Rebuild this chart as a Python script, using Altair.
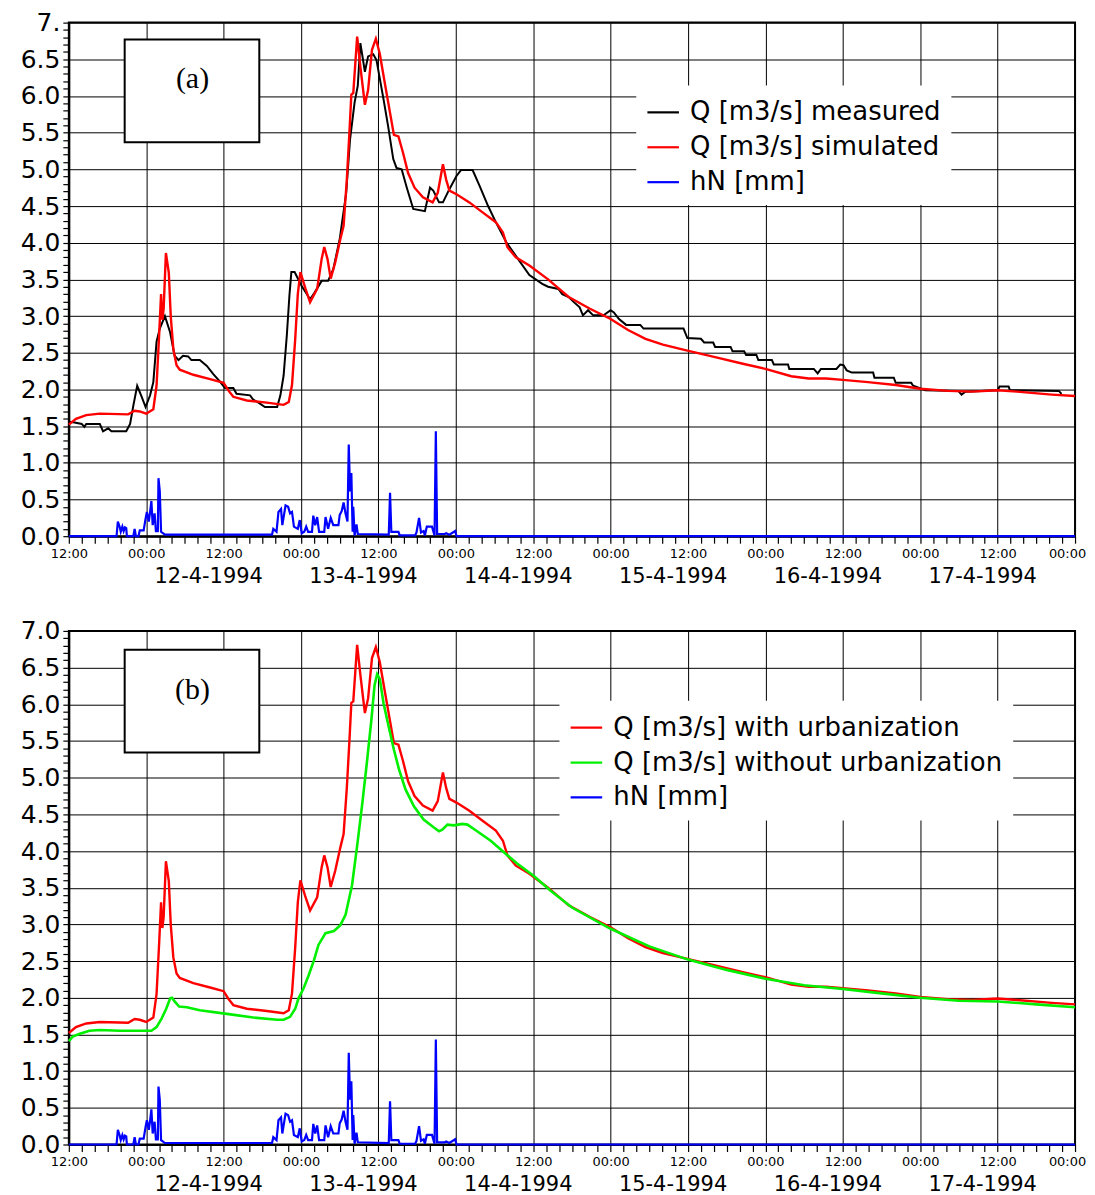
import altair as alt
import pandas as pd

# ---------------- data (hours after 11-4-1994 12:00) ----------------
red_h = [0, 1.1, 2.7, 4.8, 9.2, 10.2, 11.0, 12.0, 13.1, 13.6,
         14.0, 14.3, 14.5, 14.7, 15.05, 15.5, 15.8, 16.2, 16.7, 17.2,
         19.3, 21.9, 24.0, 24.7, 25.5, 27.6, 30.7, 33.3, 34.1, 34.6,
         35.1, 35.5, 35.9, 36.7, 37.4, 38.5, 39.2, 39.6, 40.1, 40.6,
         41.3, 42.1, 42.6, 43.1, 43.5, 43.8, 44.1, 44.7, 45.2, 45.9,
         46.4, 47.0, 47.6, 48.2, 49.0, 49.8, 50.4, 51.1, 51.8, 52.6,
         53.6, 54.9, 56.4, 57.2, 58.0, 58.5, 59.0, 60.1, 62.1, 64.2,
         66.2, 67.3, 68.0, 69.3, 71.4, 74.3, 77.5, 80.8, 84, 86.7,
         89.4, 92.1, 95.9, 100.2, 104.5, 108, 112, 114.7, 117.4, 120,
         123.9, 128.2, 132, 136.3, 140, 144, 147, 152.4, 156]
red_v = [1.52, 1.60, 1.65, 1.67, 1.66, 1.71, 1.70, 1.67, 1.73, 2.05,
         2.74, 3.30, 2.95, 3.10, 3.86, 3.59, 3.00, 2.55, 2.33, 2.27,
         2.20, 2.14, 2.09, 1.99, 1.90, 1.85, 1.82, 1.79, 1.83, 2.06,
         2.69, 3.30, 3.60, 3.37, 3.19, 3.37, 3.78, 3.94, 3.78, 3.51,
         3.73, 4.05, 4.23, 4.86, 5.50, 6.02, 6.04, 6.81, 6.40, 5.88,
         6.08, 6.63, 6.78, 6.58, 6.17, 5.77, 5.47, 5.45, 5.23, 4.95,
         4.75, 4.62, 4.55, 4.68, 5.07, 4.86, 4.71, 4.66, 4.55, 4.41,
         4.28, 4.14, 3.94, 3.80, 3.69, 3.50, 3.26, 3.10, 2.96, 2.81,
         2.69, 2.61, 2.53, 2.44, 2.35, 2.28, 2.18, 2.15, 2.15, 2.13,
         2.10, 2.06, 2.01, 1.98, 1.97, 1.99, 1.97, 1.93, 1.91]

black_h = [0, 0.9, 2.0, 2.4, 2.7, 4.8, 5.3, 6.1, 6.6, 8.9,
           9.5, 10.0, 10.6, 11.3, 11.9, 12.6, 13.1, 13.6, 14.1, 14.9,
           15.7, 16.4, 17.0, 17.7, 18.5, 19.0, 20.3, 21.4, 22.4, 23.4,
           24.2, 25.5, 26.0, 28.1, 28.6, 29.4, 30.4, 32.3, 32.8, 33.3,
           33.8, 34.2, 34.5, 35.0, 36.1, 37.4, 38.1, 39.2, 40.2, 41.0,
           42.0, 43.0, 43.6, 44.3, 44.8, 45.2, 45.9, 46.4, 47.2, 47.7,
           48.8, 49.5, 50.3, 50.8, 51.6, 52.4, 53.4, 55.2, 56.0, 56.5,
           57.4, 58.0, 59.0, 60.1, 60.8, 62.6, 63.7, 65.0, 66.2, 67.8,
           69.3, 71.4, 73.4, 74.3, 75.9, 76.5, 77.5, 78.3, 79.2, 79.7,
           80.5, 81.3, 82.9, 84.0, 84.5, 85.3, 86.4, 88.6, 89.1, 95.3,
           95.9, 98.0, 98.5, 99.9, 100.2, 102.6, 102.9, 104.7, 105.0, 106.6,
           106.9, 109.0, 109.3, 111.5, 111.7, 115.5, 116.1, 116.6, 119.0, 119.6,
           120.1, 120.6, 121.4, 124.7, 124.9, 127.9, 128.2, 130.6, 130.9, 132.8,
           137.9, 138.4, 139.0, 144.0, 144.3, 145.7, 145.9, 153.5, 153.9]
black_v = [1.56, 1.55, 1.53, 1.49, 1.53, 1.53, 1.43, 1.47, 1.43, 1.43,
           1.53, 1.78, 2.05, 1.90, 1.76, 1.92, 2.10, 2.65, 2.83, 3.00,
           2.78, 2.46, 2.40, 2.46, 2.45, 2.40, 2.40, 2.32, 2.21, 2.11,
           2.02, 2.02, 1.94, 1.92, 1.86, 1.82, 1.76, 1.76, 1.92, 2.19,
           2.74, 3.28, 3.60, 3.60, 3.41, 3.23, 3.32, 3.48, 3.48, 3.64,
           4.05, 4.68, 5.41, 5.91, 6.14, 6.72, 6.33, 6.54, 6.57, 6.49,
           5.95, 5.59, 5.14, 5.02, 5.00, 4.75, 4.46, 4.43, 4.75, 4.71,
           4.55, 4.55, 4.73, 4.91, 4.99, 4.99, 4.77, 4.50, 4.28, 4.01,
           3.82, 3.56, 3.44, 3.40, 3.37, 3.30, 3.26, 3.19, 3.12, 3.01,
           3.08, 3.01, 3.01, 3.08, 3.05, 2.96, 2.88, 2.88, 2.83, 2.83,
           2.70, 2.69, 2.64, 2.64, 2.58, 2.58, 2.52, 2.52, 2.47, 2.47,
           2.40, 2.40, 2.34, 2.34, 2.28, 2.28, 2.22, 2.28, 2.28, 2.34,
           2.33, 2.26, 2.23, 2.23, 2.16, 2.16, 2.09, 2.09, 2.05, 1.99,
           1.98, 1.93, 1.97, 1.99, 2.04, 2.04, 1.99, 1.98, 1.94]

green_h = [0, 0.6, 1.7, 3.2, 4.8, 7.9, 12.8, 13.6, 14.4, 15.1,
           15.7, 16.0, 16.4, 17.1, 18.3, 20.3, 24.5, 28.6, 32.3, 33.3,
           34.3, 35.1, 35.6, 36.4, 37.2, 38.0, 38.7, 39.8, 41.1, 42.1,
           42.9, 43.9, 44.7, 45.5, 46.2, 46.9, 47.4, 47.8, 48.2, 48.8,
           49.6, 50.4, 51.2, 52.2, 53.5, 55.0, 56.6, 57.4, 57.9, 58.7,
           59.7, 61.0, 61.8, 63.3, 65.4, 67.5, 69.5, 72.1, 74.7, 78,
           84, 90, 96, 102, 108, 114, 120, 126, 132, 138,
           144, 150, 156]
green_v = [1.41, 1.47, 1.51, 1.55, 1.56, 1.55, 1.55, 1.60, 1.72, 1.85,
           1.99, 2.00, 1.95, 1.88, 1.87, 1.83, 1.78, 1.73, 1.70, 1.70,
           1.74, 1.85, 1.99, 2.13, 2.31, 2.51, 2.72, 2.88, 2.91, 2.99,
           3.13, 3.53, 4.07, 4.65, 5.20, 5.78, 6.26, 6.41, 6.35, 6.01,
           5.69, 5.38, 5.11, 4.84, 4.61, 4.43, 4.32, 4.27, 4.29, 4.36,
           4.35, 4.37, 4.36, 4.27, 4.14, 3.98, 3.83, 3.66, 3.46, 3.23,
           2.94, 2.70, 2.52, 2.38, 2.26, 2.17, 2.12, 2.06, 2.00, 1.96,
           1.95, 1.91, 1.87]

blue_h = [0, 7.4, 7.6, 7.9, 8.05, 8.3, 8.5, 8.7, 8.9, 9.0,
          10.0, 10.2, 10.4, 10.8, 11.0, 11.6, 11.9, 12.1, 12.4, 12.6,
          12.8, 13.0, 13.3, 13.5, 13.8, 13.9, 14.1, 14.3, 14.9, 31.5,
          31.7, 32.2, 32.5, 32.9, 33.1, 33.6, 34.0, 34.3, 34.6, 34.9,
          35.5, 35.8, 36.1, 36.5, 36.8, 37.1, 37.7, 37.9, 38.2, 38.5,
          38.8, 39.6, 39.8, 40.2, 40.6, 41.0, 41.8, 42.0, 42.3, 42.6,
          42.9, 43.2, 43.4, 43.6, 43.8, 44.0, 44.1, 44.3, 44.6, 44.8,
          49.6, 49.8, 50.0, 51.1, 51.3, 53.7, 53.9, 54.3, 54.6, 55.0,
          55.2, 55.5, 56.3, 56.7, 56.9, 57.1, 58.3, 58.5, 59.0, 59.9,
          60.1, 156]
blue_v = [0, 0, 0.20, 0.12, 0.06, 0.13, 0.07, 0.12, 0.11, 0,
          0, 0.10, 0, 0, 0.08, 0.08, 0.24, 0.33, 0.20, 0.33,
          0.48, 0.15, 0.31, 0.07, 0.07, 0.79, 0.61, 0.06, 0.02, 0.02,
          0.10, 0.06, 0.33, 0.37, 0.15, 0.42, 0.40, 0.31, 0.33, 0.13,
          0.10, 0.22, 0.04, 0.06, 0.13, 0.06, 0.06, 0.28, 0.15, 0.26,
          0.06, 0.06, 0.26, 0.10, 0.25, 0.15, 0.15, 0.29, 0.34, 0.46,
          0.31, 0.20, 1.25, 0.61, 0.86, 0.06, 0.40, 0.01, 0.16, 0.03,
          0.02, 0.59, 0.06, 0.06, 0.01, 0.01, 0.05, 0.25, 0.05, 0.07,
          0.01, 0.13, 0.13, 0.01, 1.43, 0.03, 0.03, 0.04, 0.02, 0.07,
          0.0, 0.0]

x_tick_hours = list(range(0, 157, 2))
y_tick_values = [round(i * 0.1, 1) for i in range(71)]
date_hours = [24, 48, 72, 96, 120, 144]
date_labels = ["12-4-1994", "13-4-1994", "14-4-1994", "15-4-1994", "16-4-1994", "17-4-1994"]

names_a = ["Q [m3/s] measured", "Q [m3/s] simulated", "hN [mm]"]
colors_a = ["#000000", "#ff0000", "#0000ff"]
names_b = ["Q [m3/s] with urbanization", "Q [m3/s] without urbanization", "hN [mm]"]
colors_b = ["#ff0000", "#00f000", "#0000ff"]

W, H = 1009, 515
FONT = "DejaVu Sans"


def long_df(items):
    rows = []
    for name, hs, vs in items:
        for h, v in zip(hs, vs):
            rows.append({"h": h, "v": v, "series": name})
    return pd.DataFrame(rows)


df_a = long_df([(names_a[0], black_h, black_v), (names_a[1], red_h, red_v), (names_a[2], blue_h, blue_v)])
df_b = long_df([(names_b[0], red_h, red_v), (names_b[1], green_h, green_v), (names_b[2], blue_h, blue_v)])


def panel(df, names, colors, widths, tag, leg_x, leg_y, top_label, box_y):
    ymajor = "abs(datum.value*2 - round(datum.value*2)) < 0.01"
    ylab = ymajor + " ? format(datum.value, '.1f') : ''"
    if top_label:
        ylab = "datum.value > 6.95 ? '7.' : (" + ylab + ")"
    xaxis = alt.Axis(
        values=x_tick_hours,
        labelExpr="datum.value % 12 == 0 ? (datum.value % 24 == 0 ? '12:00' : '00:00') : ''",
        grid=True,
        gridColor="black", gridWidth=1,
        gridOpacity={"condition": {"test": "datum.value % 12 == 0", "value": 1}, "value": 0},
        domainColor="black", domainWidth=2,
        tickColor="black", tickSize=7, tickWidth=1.2,
        labelFont=FONT, labelFontSize=13, labelColor="black",
        labelPadding=4, labelOverlap=False, labelFlush=False,
        labelOffset={"condition": {"test": "datum.value > 155", "value": -8}, "value": 0},
        title=None,
    )
    yaxis = alt.Axis(
        values=y_tick_values,
        labelExpr=ylab,
        grid=True,
        gridColor="black", gridWidth=1,
        gridOpacity={"condition": {"test": ymajor, "value": 1}, "value": 0},
        domainColor="black", domainWidth=2,
        tickColor="black", tickSize=6, tickWidth=1.2,
        labelFont=FONT, labelColor="black", labelFontSize=25,
        labelPadding=3, labelOverlap=False, labelFlush=False,
        title=None,
    )
    xs = alt.X("h:Q", scale=alt.Scale(domain=[0, 156], nice=False, zero=False), axis=xaxis)
    ys = alt.Y("v:Q", scale=alt.Scale(domain=[0, 7], nice=False), axis=yaxis)
    color = alt.Color(
        "series:N",
        scale=alt.Scale(domain=names, range=colors),
        legend=alt.Legend(
            title=None, orient="none", legendX=leg_x, legendY=leg_y,
            symbolType="stroke", symbolSize=1000, symbolStrokeWidth=2.2,
            labelFont=FONT, labelFontSize=26, labelColor="black", labelLimit=0,
            labelOffset=10, rowPadding=5, padding=10, fillColor="white",
        ),
    )
    base = alt.Chart(df)
    layers = []
    for n, w in zip(names, widths):
        layers.append(
            base.transform_filter(alt.datum.series == n)
            .mark_line(strokeWidth=w, interpolate="linear")
            .encode(x=xs, y=ys, color=color)
        )
    tag_df = pd.DataFrame({"t": [tag]})
    box = alt.Chart(tag_df).mark_rect(fill="white", stroke="black", strokeWidth=2).encode(
        x=alt.value(56), x2=alt.value(191), y=alt.value(box_y), y2=alt.value(box_y + 103)
    )
    box_text = alt.Chart(tag_df).mark_text(font="Liberation Serif", fontSize=30, color="black").encode(
        x=alt.value(124), y=alt.value(box_y + 40), text="t:N"
    )
    dates = alt.Chart(pd.DataFrame({"h": date_hours, "d": date_labels})).mark_text(
        font=FONT, fontSize=21, dx=-15, color="black", baseline="middle"
    ).encode(x=xs, y=alt.value(H + 41), text="d:N")
    return alt.layer(*layers, box, box_text, dates).properties(width=W, height=H)


pa = panel(df_a, names_a, colors_a, [2.0, 2.4, 2.2], "(a)", 569, 63, True, 17)
pb = panel(df_b, names_b, colors_b, [2.4, 2.6, 2.2], "(b)", 492, 70, False, 19)

chart = (
    alt.vconcat(pa, pb, spacing=30)
    .resolve_scale(color="independent")
    .properties(padding={"left": 11, "top": 0, "right": 0, "bottom": 0}, background="white")
    .configure_view(stroke="black", strokeWidth=2)
)

chart.save("out.html", embed_options={"renderer": "svg", "actions": False})
